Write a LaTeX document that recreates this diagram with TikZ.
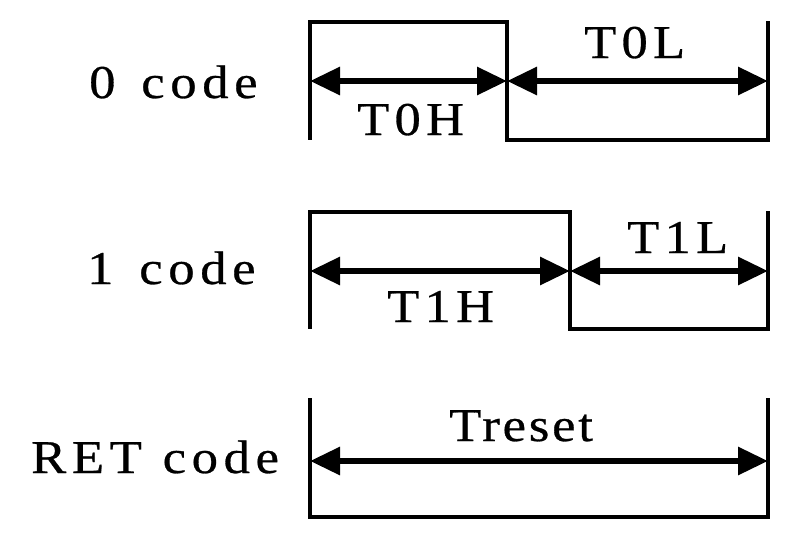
\documentclass[tikz,border=0pt]{standalone}
\usepackage{fontspec}
\setmainfont{Liberation Serif}
\newfontfamily\lblfont[LetterSpace=12,FakeStretch=1.12,FakeBold=0.6]{Liberation Serif}
\newfontfamily\tfont[LetterSpace=11,FakeStretch=1.12,FakeBold=0.6]{Liberation Serif}
\newfontfamily\rstfont[LetterSpace=6,FakeStretch=1.12,FakeBold=0.6]{Liberation Serif}
\usetikzlibrary{arrows.meta}
\begin{document}
\begin{tikzpicture}[x=1pt,y=-1pt,
  wave/.style={line width=4pt,line join=miter,line cap=rect},
  dim/.style={line width=6pt,{Triangle[length=30pt,width=27pt]}-{Triangle[length=30pt,width=27pt]}},
  lbl/.style={anchor=base west,inner sep=0pt,font=\fontsize{47}{56}\lblfont},
  tlbl/.style={anchor=base west,inner sep=0pt,font=\fontsize{47}{56}\tfont},
  rst/.style={anchor=base west,inner sep=0pt,font=\fontsize{47}{56}\rstfont}]
\useasboundingbox (0,0) rectangle (800,538);
% row 0
\coordinate (a1) at (310,138); \coordinate (a2) at (310,22);
\coordinate (a3) at (507,22);  \coordinate (a4) at (507,140);
\coordinate (a5) at (768,140); \coordinate (a6) at (768,23);
\draw[wave] (a1) -- (a2) -- (a3) -- (a4) -- (a5) -- (a6);
\coordinate (aL) at (310,81); \coordinate (aM) at (507,81); \coordinate (aR) at (768,81);
\draw[dim] (aL) -- (aM);
\draw[dim] (aM) -- (aR);
\node[lbl] (c0) at (89,98) {0\hspace{7pt} code};
\node[tlbl] (t0h) at (357,135) {T0H};
\node[tlbl] (t0l) at (584,58) {T0L};
% row 1
\coordinate (b1) at (310,327); \coordinate (b2) at (310,212);
\coordinate (b3) at (570,212); \coordinate (b4) at (570,329);
\coordinate (b5) at (768,329); \coordinate (b6) at (768,213);
\draw[wave] (b1) -- (b2) -- (b3) -- (b4) -- (b5) -- (b6);
\coordinate (bL) at (310,271); \coordinate (bM) at (570,271); \coordinate (bR) at (768,271);
\draw[dim] (bL) -- (bM);
\draw[dim] (bM) -- (bR);
\node[lbl] (c1) at (87,284) {1\hspace{7pt} code};
\node[tlbl] (t1h) at (387,322) {T1H};
\node[tlbl] (t1l) at (627,253) {T1L};
% row 2
\coordinate (r1) at (310,400); \coordinate (r2) at (310,517);
\coordinate (r3) at (768,517); \coordinate (r4) at (768,400);
\draw[wave] (r1) -- (r2) -- (r3) -- (r4);
\coordinate (rL) at (310,461); \coordinate (rR) at (768,461);
\draw[dim] (rL) -- (rR);
\node[lbl] (cr) at (31,473) {RET\hspace{2pt} code};
\node[rst] (trs) at (449,441) {Treset};
\end{tikzpicture}
\end{document}
